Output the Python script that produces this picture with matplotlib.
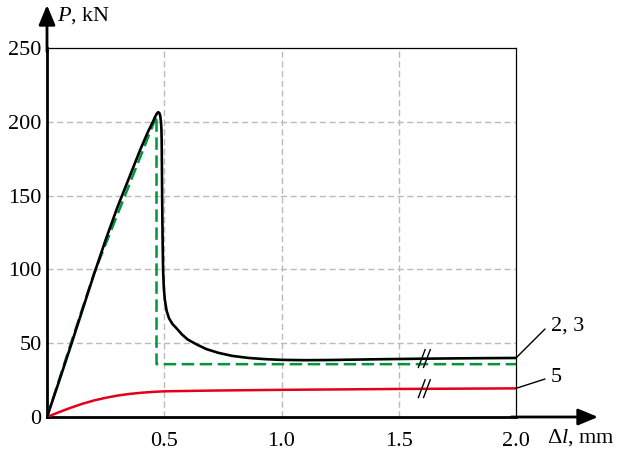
import matplotlib
matplotlib.use("Agg")
import matplotlib.pyplot as plt

plt.rcParams['font.family'] = ['Liberation Serif', 'DejaVu Serif']
plt.rcParams['mathtext.fontset'] = 'custom'
plt.rcParams['mathtext.rm'] = 'Liberation Serif'
plt.rcParams['mathtext.it'] = 'Liberation Serif:italic'

# curve 2, 3 (solid black)
x_black = [0, 0.05, 0.1, 0.15, 0.2, 0.25, 0.3, 0.35, 0.4, 0.43, 0.45, 0.46, 0.468, 0.474,
           0.479, 0.483, 0.486, 0.488, 0.489, 0.490, 0.491, 0.493, 0.495, 0.498, 0.502, 0.51,
           0.52, 0.535, 0.55, 0.575, 0.6, 0.64, 0.68, 0.73, 0.79, 0.86, 0.93, 1.0,
           1.1, 1.2, 1.4, 1.6, 1.8, 2.0]
p_black = [0, 23.5, 47.5, 72, 96.5, 120, 142, 162, 182, 193, 199.5, 203, 205.5, 206.5,
           206, 204, 200, 195, 188, 170, 150, 120, 100, 88, 80, 72,
           67, 63, 60.5, 56, 52.5, 49, 46, 43.5, 41.4, 40, 39.2, 38.7,
           38.5, 38.6, 39.1, 39.5, 39.8, 40]
# dashed green
x_green = [0, 0.1, 0.2, 0.3, 0.4, 0.467, 0.467, 2.0]
p_green = [0, 49, 97, 137, 177, 204, 35.8, 35.8]
# curve 5 (red)
x_red = [0, 0.05, 0.1, 0.15, 0.2, 0.25, 0.3, 0.35, 0.4, 0.45, 0.5, 0.7, 1.0, 1.5, 2.0]
p_red = [0, 3.2, 6.2, 8.9, 11.2, 13.0, 14.5, 15.6, 16.4, 17.0, 17.4, 17.9, 18.4, 19.0, 19.4]

x_ticks = [0.5, 1.0, 1.5, 2.0]
x_labels = ['0.5', '1.0', '1.5', '2.0']
y_ticks = [0, 50, 100, 150, 200, 250]
y_labels = ['0', '50', '100', '150', '200', '250']

fs = 16

fig = plt.figure(figsize=(6.18, 4.55), dpi=100)
ax = fig.add_axes([47 / 618, 1 - 417 / 455, (516 - 47) / 618, (417 - 48) / 455])
ax.set_xlim(0, 2.0)
ax.set_ylim(0, 250)

for v in x_ticks[:-1]:
    ax.axvline(v, color='#bbbbbb', lw=1.0, ls=(0, (4.5, 2.5)), zorder=1)
for v in y_ticks[1:-1]:
    ax.axhline(v, color='#bbbbbb', lw=1.0, ls=(0, (4.5, 2.5)), zorder=1)

ax.plot(x_red, p_red, color='#e2001a', lw=1.8, zorder=3, solid_joinstyle='round')
ax.plot(x_green, p_green, color='#009639', lw=1.8, ls=(0, (5, 2.2)), zorder=3)
ax.plot(x_black, p_black, color='black', lw=1.9, zorder=4, solid_joinstyle='round')

# break marks
for yv in [39.6, 19.2]:
    for xc in [1.598, 1.620]:
        ax.plot([xc - 0.0143, xc + 0.0143], [yv - 6, yv + 6], color='black',
                lw=1.0, zorder=5, clip_on=False)

ax.set_xticks(x_ticks)
ax.set_xticklabels(x_labels)
ax.set_yticks(y_ticks)
ax.set_yticklabels(y_labels)
ax.tick_params(length=0, labelsize=fs)
ax.tick_params(axis='x', pad=11)
ax.tick_params(axis='y', pad=4)

for s in ['left', 'bottom']:
    ax.spines[s].set_linewidth(2.0)
for s in ['top', 'right']:
    ax.spines[s].set_linewidth(0.9)

# axis arrows
arrow = dict(arrowstyle='-|>,head_length=1.2,head_width=0.5', color='black', lw=2.0,
             shrinkA=0, shrinkB=0)
ax.annotate('', xy=(0, 1.0 + 43 / 369), xytext=(0, 0.99), xycoords='axes fraction', arrowprops=arrow)
ax.annotate('', xy=(1.0 + 82 / 469, 0), xytext=(0.99, 0), xycoords='axes fraction', arrowprops=arrow)

fig.text(57 / 618, 1 - 16 / 455, '$P$, kN', fontsize=fs, va='center', ha='left')
fig.text(547 / 618, 1 - 438 / 455, 'Δ$l$, mm', fontsize=fs, va='center', ha='left')

# labels of curves
leader = dict(arrowstyle='-', color='black', lw=1.0, shrinkA=0, shrinkB=0)
ax.annotate('', xy=(2.0, 40), xytext=(545 / 618, 1 - 329 / 455), textcoords='figure fraction',
            arrowprops=leader)
ax.annotate('', xy=(2.0, 19.4), xytext=(545 / 618, 1 - 379 / 455), textcoords='figure fraction',
            arrowprops=leader)
fig.text(551 / 618, 1 - 326 / 455, '2, 3', fontsize=fs, va='center', ha='left')
fig.text(551 / 618, 1 - 377 / 455, '5', fontsize=fs, va='center', ha='left')

fig.savefig('out.png', dpi=100)
